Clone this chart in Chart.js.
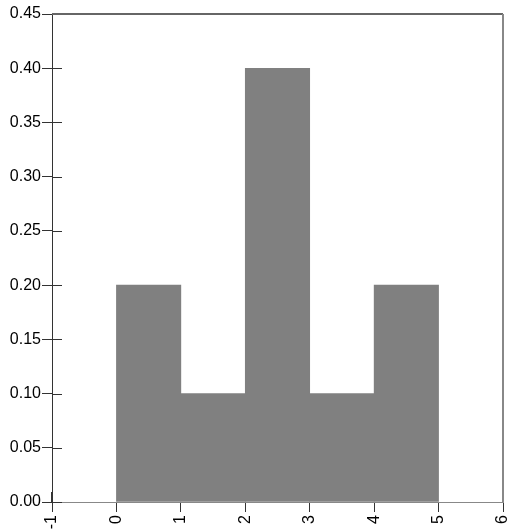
<!DOCTYPE html>
<html lang="en">
<head>
    <meta charset="UTF-8">
    <title>Histogram</title>
    <script src="https://cdn.jsdelivr.net/npm/chart.js"></script>
    <style>
        body {
            margin: 0;
            background: white;
        }
        canvas {
            display: block;
        }
    </style>
</head>
<body>
    <canvas id="histChart" width="512" height="531"></canvas>

    <script>
        // bins start at these edges, each one unit wide
        const binStarts = [0, 1, 2, 3, 4];
        const binValues = [0.2, 0.1, 0.4, 0.1, 0.2];
        const xTicks = [-1, 0, 1, 2, 3, 4, 5, 6];
        const yTicks = [0, 0.05, 0.10, 0.15, 0.20, 0.25, 0.30, 0.35, 0.40, 0.45];

        const points = binStarts.map((s, i) => ({ x: s + 0.5, y: binValues[i] }));
        const histLo = binStarts[0];
        const histHi = binStarts[binStarts.length - 1] + 1;

        // ticks in this style cross the axis, so draw the inner half too
        // (inside the bar range the bars hide them anyway)
        const innerTicks = {
            id: 'innerTicks',
            beforeDatasetsDraw(chart) {
                const ctx = chart.ctx;
                const area = chart.chartArea;
                const xs = chart.scales.x;
                const ys = chart.scales.y;
                ctx.save();
                ctx.strokeStyle = '#333';
                ctx.lineWidth = 1;
                ctx.beginPath();
                yTicks.forEach(v => {
                    const py = Math.round(ys.getPixelForValue(v)) + 0.5;
                    ctx.moveTo(area.left, py);
                    ctx.lineTo(area.left + 10, py);
                });
                xTicks.filter(v => v < histLo || v > histHi).forEach(v => {
                    const px = Math.round(xs.getPixelForValue(v)) - 0.5;
                    ctx.moveTo(px, area.bottom);
                    ctx.lineTo(px, area.bottom - 10);
                });
                ctx.stroke();
                ctx.restore();
            },
            afterDraw(chart) {
                const ctx = chart.ctx;
                const area = chart.chartArea;
                ctx.save();
                ctx.lineWidth = 2;
                ctx.strokeStyle = '#666';
                ctx.beginPath();
                ctx.moveTo(area.left, area.top);
                ctx.lineTo(area.right, area.top);
                ctx.stroke();
                ctx.strokeStyle = '#888';
                ctx.beginPath();
                ctx.moveTo(area.right, area.top);
                ctx.lineTo(area.right, area.bottom);
                ctx.stroke();
                ctx.restore();
            }
        };

        const tickFont = { family: 'Arial, "Liberation Sans", sans-serif', size: 16 };

        new Chart(document.getElementById('histChart').getContext('2d'), {
            type: 'bar',
            data: {
                datasets: [{
                    data: points,
                    backgroundColor: '#808080',
                    borderWidth: 0,
                    barPercentage: 1,
                    categoryPercentage: 1
                }]
            },
            options: {
                responsive: false,
                animation: false,
                layout: { padding: { top: 14, right: 9, left: 0, bottom: 0 } },
                plugins: {
                    legend: { display: false },
                    tooltip: { enabled: false }
                },
                scales: {
                    x: {
                        type: 'linear',
                        min: -1,
                        max: 6,
                        offset: false,
                        afterBuildTicks: axis => { axis.ticks = xTicks.map(v => ({ value: v })); },
                        afterFit: axis => {
                            axis.height = 29;
                            axis.paddingLeft = 0;
                            axis.paddingRight = 0;
                        },
                        grid: { offset: false, drawOnChartArea: false, tickLength: 10, color: '#333' },
                        border: { color: '#888', width: 1 },
                        ticks: {
                            minRotation: 90,
                            maxRotation: 90,
                            padding: 3,
                            color: '#000',
                            font: tickFont
                        }
                    },
                    y: {
                        min: 0,
                        max: 0.45,
                        afterBuildTicks: axis => { axis.ticks = yTicks.map(v => ({ value: v })); },
                        afterFit: axis => {
                            axis.width = 52;
                            axis.paddingTop = 0;
                            axis.paddingBottom = 0;
                        },
                        grid: { drawOnChartArea: false, tickLength: 10, color: '#333' },
                        border: { color: '#333', width: 1 },
                        ticks: {
                            padding: 1,
                            color: '#000',
                            font: tickFont,
                            callback: v => v.toFixed(2)
                        }
                    }
                }
            },
            plugins: [innerTicks]
        });
    </script>
</body>
</html>
